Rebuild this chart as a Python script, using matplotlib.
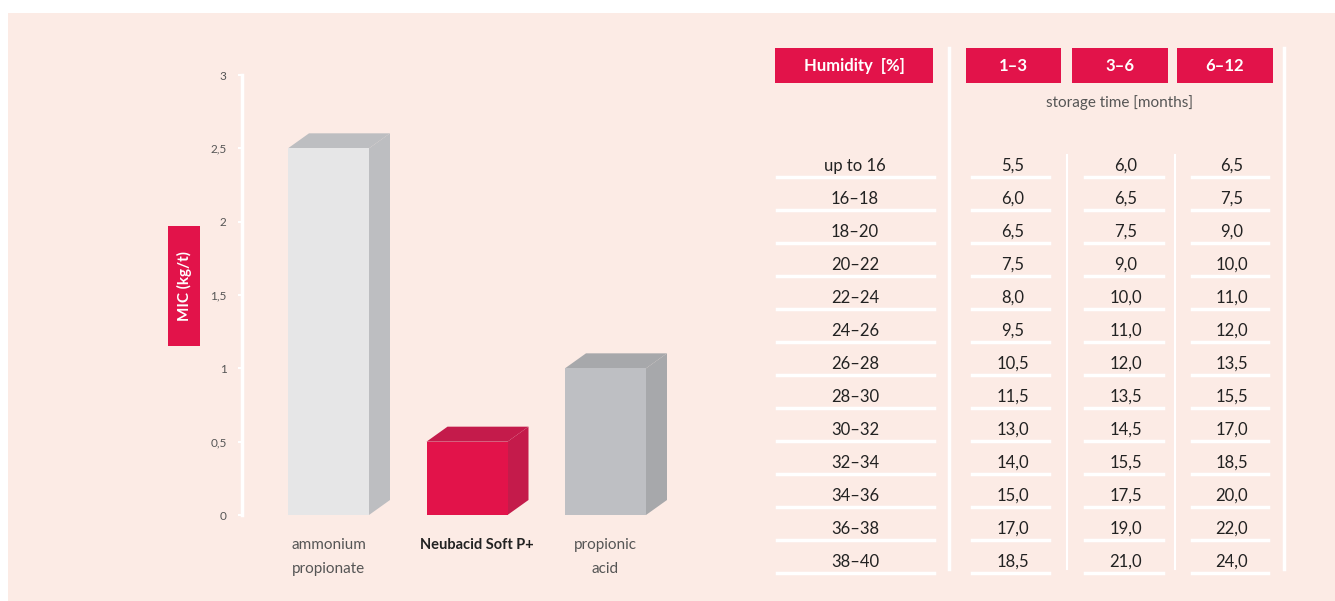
import matplotlib
matplotlib.use("Agg")
import matplotlib.pyplot as plt
from matplotlib.patches import Polygon, Rectangle

plt.rcParams['font.family'] = ['Lato', 'DejaVu Sans']

# ---- data ----
products = ["ammonium\npropionate", "Neubacid Soft P+", "propionic\nacid"]
mic_values = [2.5, 0.5, 1.0]
y_ticks = [0, 0.5, 1, 1.5, 2, 2.5, 3]
y_label = "MIC (kg/t)"

humidity = ["up to 16", "16–18", "18–20", "20–22", "22–24", "24–26", "26–28",
            "28–30", "30–32", "32–34", "34–36", "36–38", "38–40"]
period_labels = ["1–3", "3–6", "6–12"]
dose_1_3 = [5.5, 6.0, 6.5, 7.5, 8.0, 9.5, 10.5, 11.5, 13.0, 14.0, 15.0, 17.0, 18.5]
dose_3_6 = [6.0, 6.5, 7.5, 9.0, 10.0, 11.0, 12.0, 13.5, 14.5, 15.5, 17.5, 19.0, 21.0]
dose_6_12 = [6.5, 7.5, 9.0, 10.0, 11.0, 12.0, 13.5, 15.5, 17.0, 18.5, 20.0, 22.0, 24.0]
humidity_header = "Humidity  [%]"
storage_label = "storage time [months]"

# ---- styles ----
BG = "#FCEBE5"
RED = "#E2134A"
W, H = 1335, 601
front_cols = ["#E6E6E7", "#E2134A", "#BEBFC3"]
side_cols = ["#BDBEC1", "#C41B4B", "#A7A8AB"]
top_cols = ["#BDBEC1", "#C41B4B", "#A7A8AB"]
label_weights = ["normal", "bold", "normal"]

fig = plt.figure(figsize=(W / 100, H / 100), dpi=100)
fig.patch.set_facecolor("white")

# full-figure overlay in pixel coordinates
ov = fig.add_axes([0, 0, 1, 1])
ov.set_xlim(0, W)
ov.set_ylim(H, 0)
ov.axis("off")
ov.add_patch(Rectangle((8, 13), W - 8, H - 13, facecolor=BG, edgecolor="none", zorder=0))

# ---- bar chart axes ----
ax_l, ax_r, ax_t, ax_b = 242, 700, 75, 515
ax = fig.add_axes([ax_l / W, 1 - ax_b / H, (ax_r - ax_l) / W, (ax_b - ax_t) / H])
ax.set_facecolor("none")
px_per_x = 138.5
x0 = (ax_l - 328.5) / px_per_x
ax.set_xlim(x0, x0 + (ax_r - ax_l) / px_per_x)
ax.set_ylim(0, 3)
for s in ["top", "right", "bottom"]:
    ax.spines[s].set_visible(False)
ax.spines["left"].set_color("white")
ax.spines["left"].set_linewidth(2.5)
ax.set_yticks(y_ticks)
ax.set_yticklabels([f"{t:g}".replace(".", ",") for t in y_ticks], fontsize=8.5, color="#555555")
ax.tick_params(axis="y", length=3, width=1.5, color="white", pad=8)
ax.set_xticks([])

bw = 81 / px_per_x
ddx = 21 / px_per_x
ddy = 15 / ((ax_b - ax_t) / 3)
for i, v in enumerate(mic_values):
    l, r = i - bw / 2, i + bw / 2
    ax.add_patch(Polygon([(r, 0), (r + ddx, ddy), (r + ddx, v + ddy), (r, v)],
                         closed=True, facecolor=side_cols[i], edgecolor="none", zorder=2))
    ax.add_patch(Polygon([(l, v), (l + ddx, v + ddy), (r + ddx, v + ddy), (r, v)],
                         closed=True, facecolor=top_cols[i], edgecolor="none", zorder=2))
    ax.bar(i, v, width=bw, color=front_cols[i], zorder=3)
    ax.text(i + (0.0 if i != 1 else 0.07), -0.16, products[i], ha="center", va="top",
            fontsize=11 if i != 1 else 10.5,
            fontweight=label_weights[i], color="#222222" if i == 1 else "#555555",
            linespacing=1.85)

# y label box
ov.add_patch(Rectangle((168, 226), 32, 120, facecolor=RED, edgecolor="none", zorder=1))
ov.text(184, 286, y_label, rotation=90, ha="center", va="center", color="white",
        fontsize=11, fontweight="bold", zorder=2)

# ---- table ----
boxes = [(775, 933), (966, 1061), (1072, 1168), (1177, 1273)]
headers = [humidity_header] + period_labels
for (a, b), txt in zip(boxes, headers):
    ov.add_patch(Rectangle((a, 48), b - a, 35, facecolor=RED, edgecolor="none", zorder=1))
    ov.text((a + b) / 2, 66, txt, ha="center", va="center", color="white",
            fontsize=12, fontweight="bold", zorder=2)
ov.text(1120, 103, storage_label, ha="center", va="center", color="#555555", fontsize=11)

# vertical lines
ov.plot([949, 949], [48, 569], color="white", lw=2.5, zorder=1)
ov.plot([1284, 1284], [48, 569], color="white", lw=2.5, zorder=1)
ov.plot([1067, 1067], [155, 569], color="white", lw=1.5, zorder=1)
ov.plot([1175, 1175], [155, 569], color="white", lw=1.5, zorder=1)

uls = [(972, 1049), (1085, 1163), (1192, 1268)]
row_y0, row_dy = 166, 33
for k, (hum, d1, d2, d3) in enumerate(zip(humidity, dose_1_3, dose_3_6, dose_6_12)):
    y = row_y0 + k * row_dy
    ov.text(855, y, hum, ha="center", va="center", fontsize=12, color="#222222")
    ov.plot([777, 934], [y + 11, y + 11], color="white", lw=2.5, zorder=1)
    for (a, b), v in zip(uls, [d1, d2, d3]):
        ov.text((a + b) / 2 + 2, y, f"{v:.1f}".replace(".", ","), ha="center", va="center",
                fontsize=12, color="#222222")
        ov.plot([a, b], [y + 11, y + 11], color="white", lw=2.5, zorder=1)

fig.savefig("out.png", dpi=100, facecolor=fig.get_facecolor())
